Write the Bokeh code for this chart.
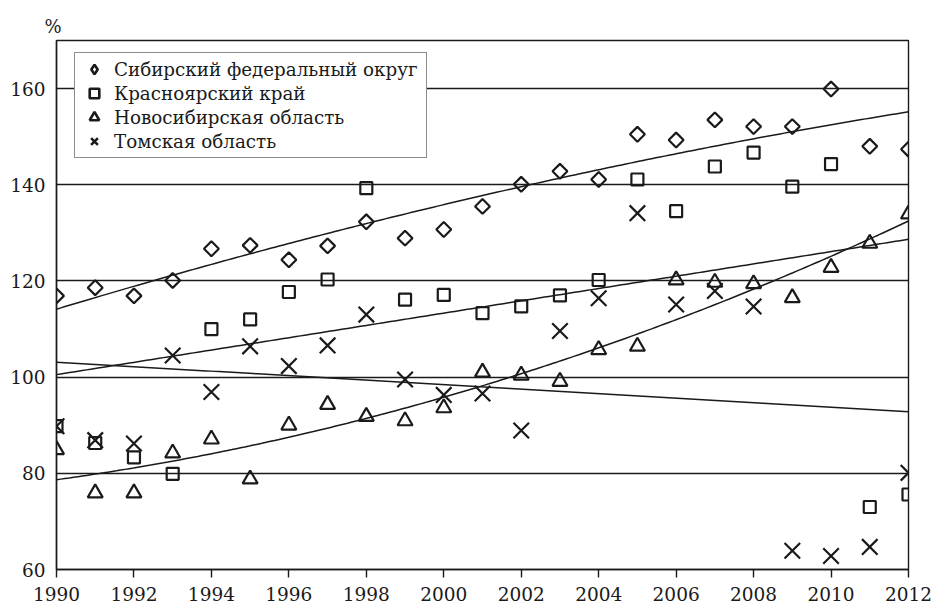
import numpy as np
from bokeh.plotting import figure
from bokeh.models import Legend, LegendItem, FixedTicker, Range1d
from bokeh.embed import file_html
from bokeh.resources import INLINE

years = list(range(1990, 2013))
siberian = [116.9, 118.6, 116.9, 120.1, 126.7, 127.4, 124.4, 127.3, 132.3, 128.9, 130.7, 135.5,
            140.1, 142.8, 141.1, 150.5, 149.3, 153.5, 152.1, 152.1, 159.9, 148.0, 147.4]
krasnoyarsk = [89.8, 86.3, 83.3, 79.9, 110.0, 112.0, 117.7, 120.3, 139.3, 116.1, 117.1, 113.3,
               114.7, 117.0, 120.2, 141.1, 134.5, 143.8, 146.7, 139.6, 144.3, 73.0, 75.6]
novosibirsk = [84.9, 75.9, 75.9, 84.2, 87.1, 78.8, 90.0, 94.3, 91.8, 90.9, 93.6, 101.0,
               100.4, 99.1, 105.7, 106.4, 120.2, 119.7, 119.4, 116.5, 122.8, 127.8, 133.9]
tomsk = [89.8, 86.9, 86.2, 104.5, 96.9, 106.4, 102.3, 106.6, 113.0, 99.5, 96.3, 96.6,
         88.9, 109.6, 116.4, 134.1, 115.1, 117.9, 114.7, 63.9, 62.8, 64.7, 80.1]
labels = ["Сибирский федеральный округ", "Красноярский край",
          "Новосибирская область", "Томская область"]
trend_degree = [2, 1, 2, 1]
x_ticks = list(range(1990, 2013, 2))
y_ticks = [60, 80, 100, 120, 140, 160]

FONT = "DejaVu Serif"
INK = "#1a1a1a"

p = figure(width=932, height=609, output_backend="svg", toolbar_location=None,
           x_range=Range1d(1990, 2012), y_range=Range1d(60, 170),
           min_border_left=56, min_border_right=24, min_border_top=40, min_border_bottom=40)
p.background_fill_color = "white"
p.border_fill_color = "white"
p.outline_line_color = INK
p.outline_line_width = 1.4

p.title.text = "%"
p.title.align = "left"
p.title.offset = -12
p.title.text_font = FONT
p.title.text_font_size = "18px"
p.title.text_font_style = "normal"
p.title.text_color = INK
p.title.standoff = 7

p.xgrid.visible = False
p.ygrid.ticker = FixedTicker(ticks=y_ticks)
p.ygrid.grid_line_color = INK
p.ygrid.grid_line_width = 1.4

p.xaxis.ticker = FixedTicker(ticks=x_ticks)
p.yaxis.ticker = FixedTicker(ticks=y_ticks)
for ax in (p.xaxis, p.yaxis):
    ax.axis_line_color = INK
    ax.axis_line_width = 1.4
    ax.major_tick_line_color = INK
    ax.major_tick_line_width = 1.4
    ax.minor_tick_line_color = None
    ax.major_label_text_font = FONT
    ax.major_label_text_font_size = "18.5px"
    ax.major_label_text_color = INK
p.xaxis.major_tick_out = 8
p.xaxis.major_tick_in = 0
p.xaxis.major_label_standoff = 9
p.yaxis.major_tick_out = 0
p.yaxis.major_tick_in = 0
p.yaxis.major_label_standoff = 11

series = [siberian, krasnoyarsk, novosibirsk, tomsk]
markers = [("square", 10.5, np.pi / 4), ("square", 12, 0), ("triangle", 15, 0), ("x", 22, 0)]
legend_markers = ["diamond", "square", "triangle", "x"]
xs = np.linspace(years[0], years[-1], 200)
for vals, deg in zip(series, trend_degree):
    coef = np.polyfit(np.array(years) - 1990, np.array(vals), deg)
    p.line(xs, np.polyval(coef, xs - 1990), line_color=INK, line_width=1.5)
items = []
for vals, (mk, sz, ang), lab, lmk in zip(series, markers, labels, legend_markers):
    p.scatter(x=years, y=vals, marker=mk, size=sz, angle=ang,
              fill_color=None, line_color=INK, line_width=2.2)
    # legend swatch: a renderer whose single point is undefined (never drawn in the plot)
    lr = p.scatter(x=[np.nan], y=[np.nan], marker=lmk, size=sz, fill_color=None,
                   line_color=INK, line_width=2.6)
    items.append(LegendItem(label=lab, renderers=[lr], index=0))

legend = Legend(items=items, location=(18, 411), orientation="vertical",
                glyph_width=30, glyph_height=24, spacing=0, padding=4, margin=0,
                label_standoff=5, label_height=24, label_width=308,
                label_text_font=FONT, label_text_font_size="18.3px", label_text_color=INK,
                border_line_color=INK, border_line_width=1.4,
                background_fill_color="white", background_fill_alpha=1.0)
p.add_layout(legend, "center")

open("out.html", "w").write(file_html(p, INLINE))
